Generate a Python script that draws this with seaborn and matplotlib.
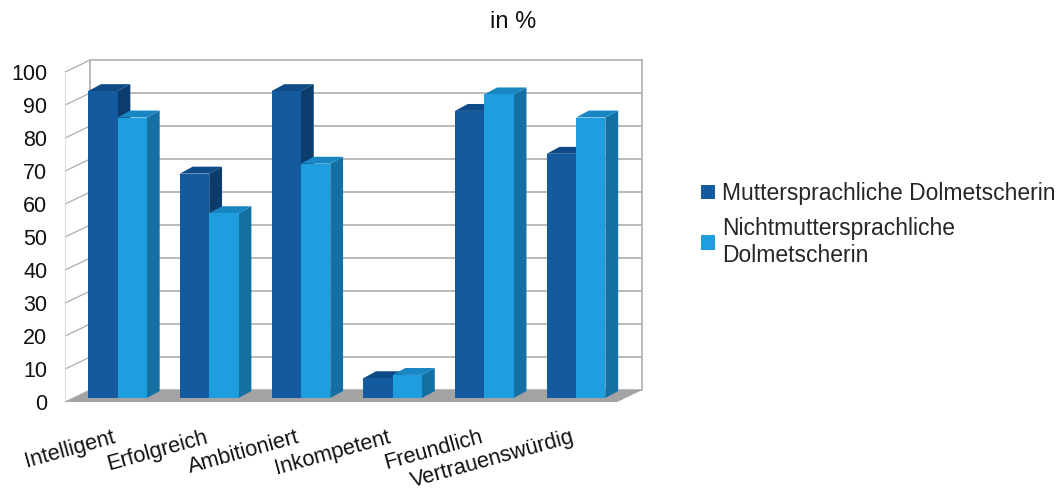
import numpy as np
import pandas as pd
import matplotlib
matplotlib.use("Agg")
import matplotlib.pyplot as plt
import seaborn as sns
from matplotlib.patches import Polygon, Patch
from matplotlib.transforms import ScaledTranslation

# ---------------- data ----------------
categories = ["Intelligent", "Erfolgreich", "Ambitioniert", "Inkompetent",
              "Freundlich", "Vertrauenswürdig"]
series_names = ["Muttersprachliche Dolmetscherin",
                "Nichtmuttersprachliche\nDolmetscherin"]
mutter = [93, 68, 93, 6, 87, 74]
nicht = [85, 56, 71, 7, 92, 85]
yticks = list(range(0, 101, 10))
title = "in %"

# ---------------- style ----------------
sns.set_theme(style="white")
plt.rcParams["font.family"] = ["Liberation Sans", "DejaVu Sans"]

dark_front, dark_side, dark_top = "#135a9e", "#0b3c6c", "#0e4a86"
light_front, light_side, light_top = "#1e9ddf", "#1470a3", "#1986c4"

df = pd.DataFrame({
    "Kategorie": categories * 2,
    "Wert": mutter + nicht,
    "Gruppe": [series_names[0]] * len(categories) + [series_names[1]] * len(categories),
})

W, H = 1063, 493
fig = plt.figure(figsize=(W / 100, H / 100), dpi=100)
L, R, T, B = 60, 650, 50, 410
ax = fig.add_axes([L / W, (H - B) / H, (R - L) / W, (B - T) / H])
px_x, px_y = 91.7, 3.3
x0px, y0px = 117.5, 398

# bars
sns.barplot(data=df, x="Kategorie", y="Wert", hue="Gruppe",
            palette=[dark_front, light_front], width=0.64, dodge=True,
            saturation=1, legend=False, ax=ax, zorder=3)

# 3D box geometry (data units)
fx0, fx1, fy = -0.57, 5.45, -1.2      # front floor edge
dxw, dyw = 0.27, 3.6                  # depth vector
bx0, bx1, by = fx0 + dxw, fx1 + dxw, fy + dyw
gcol = "#b4b4b4"

# floor
ax.add_patch(Polygon([(fx0, fy), (fx1, fy), (bx1, by), (bx0, by)],
                     closed=True, facecolor="#a3a3a3", edgecolor="none", zorder=1))
# back wall grid + frame
for v in yticks:
    ax.plot([bx0, bx1], [by + v, by + v], color=gcol, lw=1.3, zorder=0.5)
    ax.plot([fx0, bx0], [fy + v, by + v], color=gcol, lw=1.0, zorder=0.5)
ax.plot([bx0, bx0], [by, by + 100], color=gcol, lw=1.3, zorder=0.5)
ax.plot([bx1, bx1], [by, by + 100], color=gcol, lw=1.3, zorder=0.5)
ax.plot([fx0, fx0], [fy, fy + 100], color="#dddddd", lw=0.8, zorder=0.5)

ddx, ddy = 0.14, 2.1
for ci, cont in enumerate(ax.containers):
    side_c = dark_side if ci == 0 else light_side
    top_c = dark_top if ci == 0 else light_top
    z = 3 + ci
    for p in cont.patches:
        p.set_zorder(z + 0.1)
        p.set_edgecolor("none")
        x0 = p.get_x()
        x1 = x0 + p.get_width()
        h = p.get_height()
        ax.add_patch(Polygon([(x1, 0), (x1 + ddx, ddy), (x1 + ddx, h + ddy), (x1, h)],
                             closed=True, facecolor=side_c, edgecolor="none", zorder=z))
        ax.add_patch(Polygon([(x0, h), (x1, h), (x1 + ddx, h + ddy), (x0 + ddx, h + ddy)],
                             closed=True, facecolor=top_c, edgecolor="none", zorder=z))

ax.set_xlim((L - x0px) / px_x, (R - x0px) / px_x)
ax.set_ylim((y0px - B) / px_y, (y0px - T) / px_y)

# axes cosmetics
for s in ax.spines.values():
    s.set_visible(False)
ax.set_facecolor("none")
ax.grid(False)
ax.set_xlabel("")
ax.set_ylabel("")
ax.set_yticks([fy + v for v in yticks])
ax.set_yticklabels([str(v) for v in yticks])
ax.tick_params(axis="y", length=0, pad=9, labelsize=15.5, labelcolor="#111111")
ax.set_xticks(range(len(categories)))
ax.set_xticklabels(categories, rotation=15.5, ha="right", rotation_mode="anchor")
ax.tick_params(axis="x", length=0, pad=12, labelsize=15.7, labelcolor="#111111")
for lab in ax.get_xticklabels():
    lab.set_transform(lab.get_transform() +
                      ScaledTranslation(-5 / 100, 0, fig.dpi_scale_trans))

# legend
handles = [Patch(facecolor=dark_front, edgecolor="none", label=series_names[0]),
           Patch(facecolor=light_front, edgecolor="none", label=series_names[1])]
fig.legend(handles=handles, loc="upper left", bbox_to_anchor=(701 / W, 1 - 182 / H),
           frameon=False, fontsize=16.5, handlelength=0.6, handleheight=0.6,
           handletextpad=0.3, labelspacing=0.52, borderaxespad=0, borderpad=0)

fig.text(513 / W, 1 - 22 / H, title, ha="center", va="center", fontsize=17,
         color="#111111")

fig.savefig("out.png", dpi=100, facecolor="white")
